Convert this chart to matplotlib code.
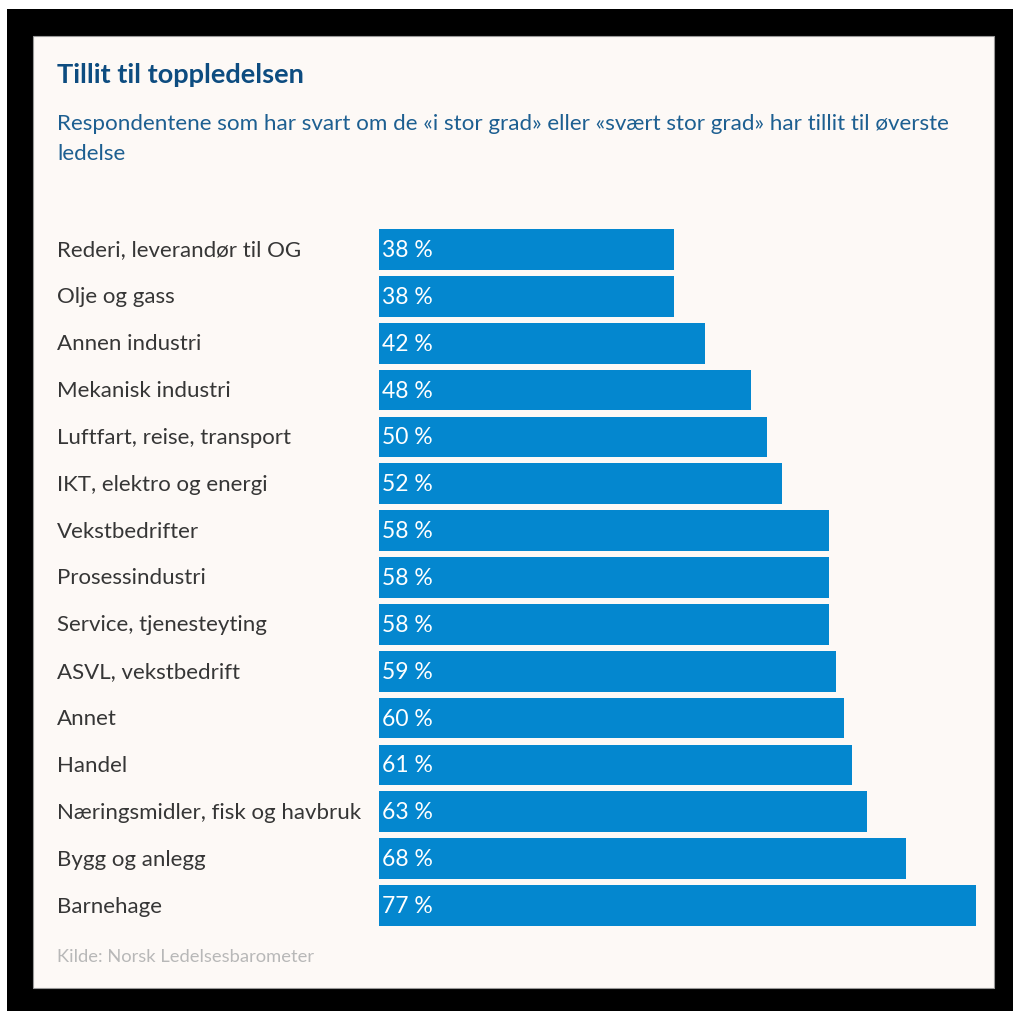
import matplotlib.pyplot as plt
from matplotlib.patches import Rectangle
from matplotlib.transforms import blended_transform_factory

# data
categories = ['Rederi, leverandør til OG', 'Olje og gass', 'Annen industri',
              'Mekanisk industri', 'Luftfart, reise, transport',
              'IKT, elektro og energi', 'Vekstbedrifter', 'Prosessindustri',
              'Service, tjenesteyting', 'ASVL, vekstbedrift', 'Annet', 'Handel',
              'Næringsmidler, fisk og havbruk', 'Bygg og anlegg', 'Barnehage']
values = [38, 38, 42, 48, 50, 52, 58, 58, 58, 59, 60, 61, 63, 68, 77]

title = 'Tillit til toppledelsen'
subtitle = ('Respondentene som har svart om de «i stor grad» eller «svært stor grad» '
            'har tillit til øverste\nledelse')
source = 'Kilde: Norsk Ledelsesbarometer'

W, H = 1013, 1012
bar_color = '#0487cf'
panel_color = '#fdf9f6'
font = 'Lato'

fig = plt.figure(figsize=(W / 100, H / 100), dpi=100)
fig.patch.set_facecolor('white')

# black frame and cream panel, kept behind the axes
fig.patches.append(Rectangle((7 / W, 0), 1, 1 - 10 / H, transform=fig.transFigure,
                             facecolor='black', edgecolor='none', zorder=-3))
fig.patches.append(Rectangle((33 / W, 1 - 989 / H), (994 - 33) / W, (989 - 37) / H,
                             transform=fig.transFigure, facecolor=panel_color,
                             edgecolor='#999999', linewidth=0.8, zorder=-2))

# bar axes: x from 379px, 7.75 px per unit
ax_left, ax_top, ax_bottom = 379, 227, 930
ax = fig.add_axes([ax_left / W, 1 - ax_bottom / H, 620 / W, (ax_bottom - ax_top) / H])
ax.set_facecolor('none')
ypos = list(range(len(categories)))
ax.barh(ypos, values, height=0.87, color=bar_color)
ax.set_xlim(0, 80)
ax.set_ylim(len(categories) - 0.5, -0.5)
ax.axis('off')

for y, v in zip(ypos, values):
    ax.text(0.45, y, '{0} %'.format(v), color='white', fontsize=16.5, family=font,
            va='center', ha='left')

trans = blended_transform_factory(fig.transFigure, ax.transData)
for y, c in zip(ypos, categories):
    ax.text(57 / W, y, c, transform=trans, color='#363636', fontsize=16,
            family=font, va='center', ha='left')

fig.text(57 / W, 1 - 75 / H, title, color='#0d4c80', fontsize=19.5,
         fontweight='bold', family=font, va='center', ha='left')
fig.text(57 / W, 1 - 114 / H, subtitle, color='#1d5f91', fontsize=16.1,
         family=font, va='top', ha='left', linespacing=1.6)
fig.text(57 / W, 1 - 957 / H, source, color='#b8b8b8', fontsize=13.2,
         family=font, va='center', ha='left')

fig.savefig('out.png', dpi=100)
